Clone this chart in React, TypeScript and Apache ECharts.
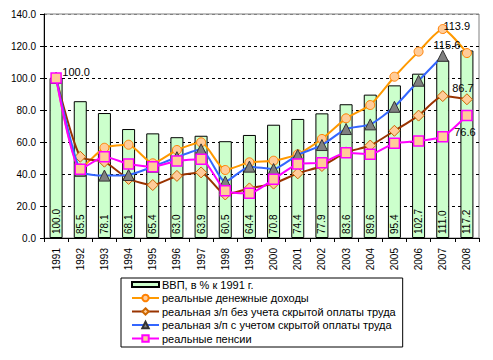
import React, { useEffect, useRef } from "react";
import * as echarts from "echarts";

const years = ["1991","1992","1993","1994","1995","1996","1997","1998","1999","2000","2001","2002","2003","2004","2005","2006","2007","2008"];
const gdp = [100.0, 85.5, 78.1, 68.1, 65.4, 63.0, 63.9, 60.5, 64.4, 70.8, 74.4, 77.9, 83.6, 89.6, 95.4, 102.7, 111.0, 117.2];
const income = [100.0, 43.5, 56.4, 58.3, 46.7, 55.0, 59.8, 42.5, 47.3, 48.3, 52.3, 61.9, 74.8, 83.1, 100.8, 116.5, 130.6, 115.6];
const wageNoHidden = [100.0, 50.8, 47.7, 36.9, 33.1, 38.8, 41.0, 27.2, 31.0, 34.0, 40.4, 45.0, 53.5, 57.8, 67.0, 76.5, 88.7, 86.7];
const wageHidden = [100.0, 42.0, 39.0, 39.4, 44.6, 50.5, 55.4, 35.2, 44.6, 43.1, 51.9, 58.1, 68.1, 71.0, 82.0, 98.3, 113.9, null];
const pensions = [100.0, 42.9, 50.8, 46.3, 44.6, 48.1, 49.2, 29.6, 27.9, 36.7, 46.3, 47.1, 53.3, 52.3, 59.2, 60.6, 63.3, 76.6];

const names = [
  "ВВП, в % к 1991 г.",
  "реальные денежные доходы",
  "реальная з/п без учета скрытой оплаты труда",
  "реальная з/п с учетом скрытой оплаты труда",
  "реальные пенсии",
];

const FONT = "'Liberation Sans', Arial, sans-serif";

function withLabels(values: (number | null)[], labels: Record<number, number[]>) {
  return values.map((v, i) => {
    if (labels[i] && v !== null) {
      return {
        value: v,
        label: {
          show: true,
          position: "inside",
          offset: labels[i],
          formatter: (p: any) => Number(p.value).toFixed(1),
          color: "#000",
          fontSize: 11,
          fontFamily: FONT,
        },
      };
    }
    return v;
  });
}

export default function App() {
  const ref = useRef<HTMLDivElement>(null);
  useEffect(() => {
    if (!ref.current) return;
    const chart = echarts.init(ref.current, undefined, { renderer: "svg" });
    const lineCommon = {
      type: "line",
      smooth: 0.2,
      connectNulls: false,
      emphasis: { disabled: true },
    };
    chart.setOption({
      animation: false,
      backgroundColor: "#fff",
      textStyle: { fontFamily: FONT },
      grid: {
        left: 44,
        right: 14,
        top: 14,
        bottom: 122,
        show: true,
        borderColor: "#808080",
        borderWidth: 1,
        backgroundColor: "transparent",
      },
      legend: {
        orient: "vertical",
        left: 121,
        top: 278,
        padding: [1, 7, 3, 10],
        borderColor: "#000",
        borderWidth: 1,
        backgroundColor: "#fff",
        itemWidth: 27,
        itemHeight: 8,
        itemGap: 2.5,
        textStyle: { fontSize: 11, color: "#000", fontFamily: FONT, padding: [0, 0, 0, -2] },
        data: [
          { name: names[0], icon: "path://M0,0 L27,0 L27,5 L0,5 Z" },
          { name: names[1] },
          { name: names[2] },
          { name: names[3] },
          { name: names[4] },
        ],
      },
      xAxis: {
        type: "category",
        data: years,
        boundaryGap: true,
        axisLine: { lineStyle: { color: "#000", width: 1 } },
        axisTick: { show: true, length: 4, lineStyle: { color: "#000" } },
        axisLabel: { rotate: 90, fontSize: 10, color: "#000", margin: 10, fontFamily: FONT },
        splitLine: { show: false },
      },
      yAxis: {
        type: "value",
        min: 0,
        max: 140,
        interval: 20,
        axisLine: { show: true, lineStyle: { color: "#000", width: 1 } },
        axisTick: { show: true, length: 4, lineStyle: { color: "#000" } },
        axisLabel: {
          fontSize: 10,
          color: "#000",
          margin: 8,
          fontFamily: FONT,
          formatter: (v: number) => v.toFixed(1),
        },
        splitLine: {
          show: true,
          lineStyle: {
            color: ["#000", "#000", "#000", "#000", "#000", "#000", "#000", "#808080"],
            type: [3, 3],
            width: 1,
          },
        },
      },
      series: [
        {
          name: names[0],
          type: "bar",
          data: gdp,
          barWidth: 13,
          itemStyle: { color: "#CCFFCC", borderColor: "#000", borderWidth: 1 },
          emphasis: { disabled: true },
          label: {
            show: true,
            position: "insideBottom",
            distance: 4,
            rotate: 90,
            align: "left",
            verticalAlign: "middle",
            fontSize: 10,
            color: "#000",
            fontFamily: FONT,
            formatter: (p: any) => Number(p.value).toFixed(1),
          },
          z: 1,
        },
        {
          ...lineCommon,
          name: names[1],
          data: withLabels(income, { 17: [-20, -8] }),
          symbol: "circle",
          symbolSize: 9,
          lineStyle: { color: "#FF9900", width: 2 },
          itemStyle: { color: "#FFCC99", borderColor: "#FF8000", borderWidth: 1 },
          z: 2,
        },
        {
          ...lineCommon,
          name: names[2],
          data: withLabels(wageNoHidden, { 17: [-4, -11] }),
          symbol: "diamond",
          symbolSize: 11,
          lineStyle: { color: "#993300", width: 2 },
          itemStyle: { color: "#FFCC99", borderColor: "#CC6600", borderWidth: 1 },
          z: 3,
        },
        {
          ...lineCommon,
          name: names[3],
          data: withLabels(wageHidden, { 16: [14, -30] }),
          symbol: "triangle",
          symbolSize: 11,
          lineStyle: { color: "#3366FF", width: 2 },
          itemStyle: { color: "#808080", borderColor: "#333", borderWidth: 1 },
          z: 4,
        },
        {
          ...lineCommon,
          name: names[4],
          data: withLabels(pensions, { 0: [20, -6], 17: [-2, 17] }),
          symbol: "rect",
          symbolSize: 10,
          lineStyle: { color: "#FF00FF", width: 2 },
          itemStyle: { color: "#FFCC99", borderColor: "#FF00FF", borderWidth: 1.5 },
          z: 5,
        },
      ],
    });
    return () => chart.dispose();
  }, []);
  return (
    <div
      ref={ref}
      style={{ position: "fixed", left: 0, top: 0, width: 493, height: 360, background: "#fff" }}
    />
  );
}
